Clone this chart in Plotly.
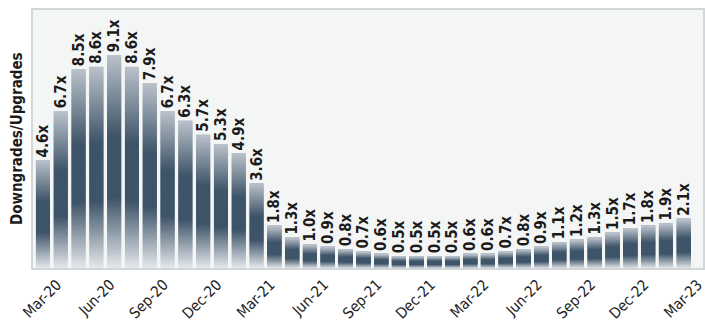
import plotly.graph_objects as go

# Monthly ratio of downgrades to upgrades, Mar-20 .. Mar-23
months = [
    "Mar-20", "Apr-20", "May-20", "Jun-20", "Jul-20", "Aug-20", "Sep-20", "Oct-20",
    "Nov-20", "Dec-20", "Jan-21", "Feb-21", "Mar-21", "Apr-21", "May-21", "Jun-21",
    "Jul-21", "Aug-21", "Sep-21", "Oct-21", "Nov-21", "Dec-21", "Jan-22", "Feb-22",
    "Mar-22", "Apr-22", "May-22", "Jun-22", "Jul-22", "Aug-22", "Sep-22", "Oct-22",
    "Nov-22", "Dec-22", "Jan-23", "Feb-23", "Mar-23",
]
ratios = [
    4.6, 6.7, 8.5, 8.6, 9.1, 8.6, 7.9, 6.7, 6.3, 5.7, 5.3, 4.9, 3.6,
    1.8, 1.3, 1.0, 0.9, 0.8, 0.7, 0.6, 0.5, 0.5, 0.5, 0.5, 0.6, 0.6,
    0.7, 0.8, 0.9, 1.1, 1.2, 1.3, 1.5, 1.7, 1.8, 1.9, 2.1,
]
tick_months = months[::3]

# Vertical shading of each bar: light at the base, dark slate body, lighter cap
stops = [
    (0.00, (228, 232, 236)),
    (0.33, (62, 84, 104)),
    (0.62, (62, 84, 104)),
    (1.00, (186, 194, 203)),
]


def shade(t):
    for (t0, c0), (t1, c1) in zip(stops, stops[1:]):
        if t <= t1:
            f = (t - t0) / (t1 - t0)
            r, g, b = (round(a + (bb - a) * f) for a, bb in zip(c0, c1))
            return f"rgb({r},{g},{b})"
    r, g, b = stops[-1][1]
    return f"rgb({r},{g},{b})"


n_slices = 80
x_idx = list(range(len(months)))
cond_font = "DejaVu Sans Condensed"

fig = go.Figure()
# Overlapping slices so no seams show between neighbouring shades
for k in range(n_slices):
    lo = k / n_slices
    hi = min(1.0, (k + 2.0) / n_slices)
    fig.add_trace(go.Bar(
        x=x_idx,
        base=[v * lo for v in ratios],
        y=[v * (hi - lo) for v in ratios],
        marker=dict(color=shade((k + 0.5) / n_slices), line=dict(width=0)),
        hoverinfo="skip",
        showlegend=False,
    ))

# Transparent full-height bars carrying the value labels
fig.add_trace(go.Bar(
    x=x_idx,
    y=ratios,
    marker=dict(color="rgba(0,0,0,0)", line=dict(width=0)),
    text=[f"{v:.1f}x" for v in ratios],
    textposition="outside",
    textangle=-90,
    constraintext="none",
    cliponaxis=False,
    textfont=dict(family=cond_font, size=15, color="#1b1b1b", weight="bold"),
    hoverinfo="skip",
    showlegend=False,
))

fig.update_layout(
    barmode="overlay",
    bargap=0.21,
    width=705,
    height=324,
    margin=dict(l=33, r=2, t=10, b=56, autoexpand=False),
    paper_bgcolor="white",
    plot_bgcolor="#f4f6f6",
    xaxis=dict(
        range=[-0.56, 37.08],
        tickmode="array",
        tickvals=x_idx[::3],
        ticktext=tick_months,
        tickangle=-45,
        ticklabelshift=14,
        ticklabeloverflow="allow",
        automargin=False,
        tickfont=dict(family=cond_font, size=15, color="#222222"),
        showgrid=False,
        zeroline=False,
        showline=True,
        mirror=True,
        linecolor="#d3d6d8",
        linewidth=2,
        ticks="",
    ),
    yaxis=dict(
        range=[0, 11.03],
        showticklabels=False,
        automargin=False,
        showgrid=False,
        zeroline=False,
        showline=True,
        mirror=True,
        linecolor="#d3d6d8",
        linewidth=2,
        ticks="",
    ),
    annotations=[dict(
        text="Downgrades/Upgrades",
        xref="paper", yref="paper",
        x=-16 / 670, y=0.5,
        xanchor="center", yanchor="middle",
        textangle=-90,
        showarrow=False,
        font=dict(family=cond_font, size=15, color="#1b1b1b", weight="bold"),
    )],
)

fig.write_html("out.html")
